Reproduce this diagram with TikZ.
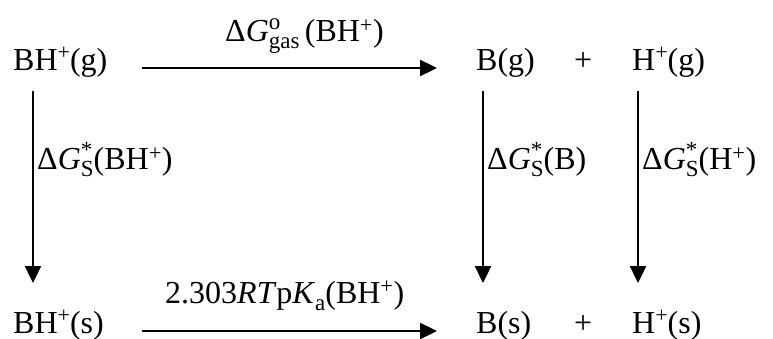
\documentclass[tikz,border=0pt]{standalone}
\usepackage{fontspec}
\setmainfont{Liberation Serif}
\usetikzlibrary{arrows.meta}
\newcommand\sbx[1]{\raisebox{-7pt}{\fontsize{23}{23}\selectfont #1}}
\newcommand\spx[1]{\raisebox{12pt}{\fontsize{23}{23}\selectfont #1}}
\newcommand\spsb[2]{\rlap{\spx{#1}}\sbx{#2}}
\newcommand\plusup{\raisebox{11pt}{\fontsize{22}{22}\selectfont +}}
\begin{document}
\begin{tikzpicture}[x=1pt,y=-1pt,
  chem/.style={anchor=base west, inner sep=0pt, font=\fontsize{32}{36}\selectfont},
  lbl/.style={anchor=base west, inner sep=0pt, font=\fontsize{32}{36}\selectfont},
  arr/.style={line width=2.4pt, -{Triangle[length=17pt,width=16pt]}}]
\useasboundingbox (0,0) rectangle (773,339);
% top row
\node[chem] (bhg) at (13,71) {BH\plusup(g)};
\node[chem] (bg) at (476,71) {B(g)};
\node[chem] (plusg) at (574,71) {+};
\node[chem] (hg) at (632,71) {H\plusup(g)};
% bottom row
\node[chem] (bhs) at (13,333) {BH\plusup(s)};
\node[chem] (bs) at (476,333) {B(s)};
\node[chem] (pluss) at (574,333) {+};
\node[chem] (hs) at (632,333) {H\plusup(s)};
% horizontal labels
\node[lbl] (lgas) at (225,42) {Δ\textit{G}\spsb{o}{gas}\,(BH\textsuperscript{+})};
\node[lbl] (lpka) at (165,303) {2.303\textit{RT}p\textit{K}\sbx{a}(BH\textsuperscript{+})};
% vertical labels
\node[lbl] (ls1) at (37,170) {Δ\textit{G}\spsb{*}{S}(BH\textsuperscript{+})};
\node[lbl] (ls2) at (487,170) {Δ\textit{G}\spsb{*}{S}(B)};
\node[lbl] (ls3) at (642,170) {Δ\textit{G}\spsb{*}{S}(H\textsuperscript{+})};
% arrow ends
\coordinate (t1) at (142,68);  \coordinate (t2) at (437,68);
\coordinate (b1) at (142,331); \coordinate (b2) at (437,331);
\coordinate (v1a) at (33,91);  \coordinate (v1b) at (33,283);
\coordinate (v2a) at (483,91); \coordinate (v2b) at (483,283);
\coordinate (v3a) at (638,91); \coordinate (v3b) at (638,283);
\draw[arr] (t1) -- (t2);
\draw[arr] (b1) -- (b2);
\draw[arr] (v1a) -- (v1b);
\draw[arr] (v2a) -- (v2b);
\draw[arr] (v3a) -- (v3b);
\end{tikzpicture}
\end{document}
